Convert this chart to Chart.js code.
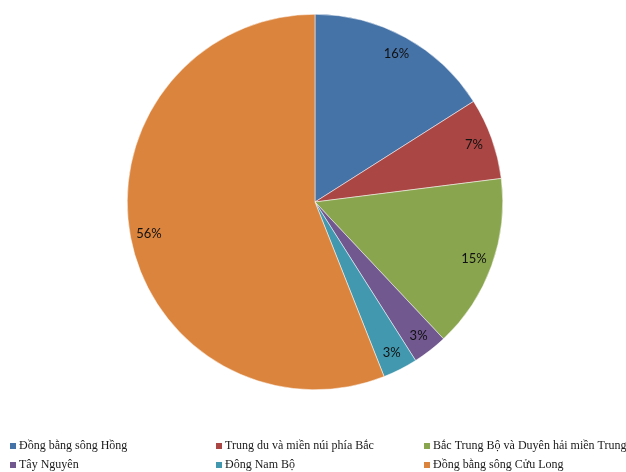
<!DOCTYPE html>
<html lang="vi">
<head>
<meta charset="utf-8">
<title>Cơ cấu theo vùng</title>
<script src="https://cdn.jsdelivr.net/npm/chart.js@4.4.1/dist/chart.umd.min.js"></script>
<style>
  html, body {
    margin: 0;
    padding: 0;
    background: #FFFFFF;
  }
  #wrap {
    position: relative;
    width: 626px;
    height: 472px;
  }
</style>
</head>
<body>
<div id="wrap"><canvas id="chart" width="626" height="472"></canvas></div>
<script>
const regions = [
  "Đồng bằng sông Hồng",
  "Trung du và miền núi phía Bắc",
  "Bắc Trung Bộ và Duyên hải miền Trung",
  "Tây Nguyên",
  "Đông Nam Bộ",
  "Đồng bằng sông Cửu Long",
];
const shares = [16, 7, 15, 3, 3, 56];
const sliceColors = ["#4572A7", "#AA4643", "#89A54E", "#71588F", "#4198AF", "#DB843D"];

// percentages written just inside the rim of each slice
const sliceLabelsPlugin = {
  id: "sliceLabels",
  afterDatasetsDraw(chart, args, opts) {
    const dataset = chart.data.datasets[0];
    const meta = chart.getDatasetMeta(0);
    const total = dataset.data.reduce((sum, v) => sum + Number(v || 0), 0);
    if (!total) {
      return;
    }
    const { ctx } = chart;
    ctx.save();
    ctx.fillStyle = opts.color;
    ctx.font = opts.font;
    ctx.textAlign = "center";
    ctx.textBaseline = "middle";
    meta.data.forEach((arc, i) => {
      const share = Math.round((dataset.data[i] / total) * 100);
      const angle = (arc.startAngle + arc.endAngle) / 2;
      const r = arc.outerRadius * opts.offset;
      ctx.fillText(`${share}%`, arc.x + Math.cos(angle) * r, arc.y + Math.sin(angle) * r);
    });
    ctx.restore();
  },
};

// legend laid out as a fixed three-column grid under the pie
const gridLegendPlugin = {
  id: "gridLegend",
  afterDraw(chart, args, opts) {
    const { ctx } = chart;
    const labels = chart.data.labels;
    const colors = chart.data.datasets[0].backgroundColor;
    ctx.save();
    ctx.font = opts.font;
    ctx.textBaseline = "middle";
    ctx.textAlign = "left";
    labels.forEach((label, i) => {
      const x = opts.columns[i % opts.columns.length];
      const y = opts.rows[Math.floor(i / opts.columns.length)];
      ctx.fillStyle = colors[i];
      ctx.fillRect(x, y - opts.box / 2, opts.box, opts.box);
      ctx.fillStyle = opts.color;
      ctx.fillText(label, x + opts.box + 3, y);
    });
    ctx.restore();
  },
};

new Chart(document.getElementById("chart"), {
  type: "pie",
  plugins: [sliceLabelsPlugin, gridLegendPlugin],
  data: {
    labels: regions,
    datasets: [
      {
        data: shares,
        backgroundColor: sliceColors,
        borderColor: "#FFFFFF",
        borderWidth: 0.5,
        hoverOffset: 0,
      },
    ],
  },
  options: {
    responsive: false,
    animation: false,
    layout: {
      padding: { top: 14, bottom: 82, left: 4, right: 0 },
    },
    plugins: {
      legend: { display: false },
      tooltip: { enabled: false },
      sliceLabels: {
        color: "#111111",
        font: '13px "Lato", "Liberation Sans", sans-serif',
        offset: 0.9,
      },
      gridLegend: {
        font: '12px "Liberation Serif", "Times New Roman", serif',
        color: "#1A1A1A",
        columns: [10, 216, 424],
        rows: [446, 465],
        box: 6,
      },
    },
  },
});
</script>
</body>
</html>
